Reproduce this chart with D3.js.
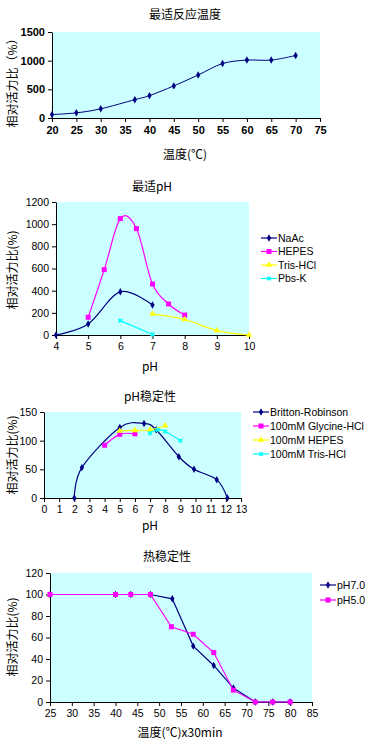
<!DOCTYPE html>
<html>
<head>
<meta charset="utf-8">
<script src="https://cdn.jsdelivr.net/npm/d3@7"></script>
<style>
  body { margin: 0; background: #fff; }
  svg { display: block; }
  text { fill: #000; }
</style>
</head>
<body>
<div id="chart"></div>
<script>
// chart 1 - optimum temperature
const tempX = [20, 25, 30, 37, 40, 45, 50, 55, 60, 65, 70];
const tempY = [60, 90, 160, 320, 390, 560, 750, 950, 1010, 1010, 1090];
const tempXTicks = [20, 25, 30, 35, 40, 45, 50, 55, 60, 65, 70, 75];
const tempYTicks = [0, 500, 1000, 1500];

// chart 2 - optimum pH
const naacX = [4, 5, 6, 7];
const naacY = [0, 100, 390, 270];
const hepesX = [5, 5.5, 6, 6.5, 7, 7.5, 8];
const hepesY = [160, 590, 1050, 960, 460, 280, 180];
const trisX = [7, 8, 9, 10];
const trisY = [190, 140, 40, 0];
const pbsX = [6, 7];
const pbsY = [130, 5];
const phXTicks = [4, 5, 6, 7, 8, 9, 10];
const phYTicks = [0, 200, 400, 600, 800, 1000, 1200];

// chart 3 - pH stability
const brX = [2, 2.5, 5, 6.6, 7.4, 8.9, 9.9, 11.4, 12.1];
const brY = [0, 53, 123, 130, 119, 72, 50, 32, 0];
const glyX = [4, 5, 6];
const glyY = [92, 111, 112];
const hepes3X = [5, 6, 7, 8];
const hepes3Y = [117, 118, 119, 126];
const tris3X = [7, 7.5, 8, 9];
const tris3Y = [113, 119, 116, 100];
const stabXTicks = [0, 1, 2, 3, 4, 5, 6, 7, 8, 9, 10, 11, 12, 13];
const stabYTicks = [0, 50, 100, 150];

// chart 4 - thermostability
const ph7X = [25, 40, 43.5, 48, 53, 57.8, 62.5, 67, 72, 76, 80];
const ph7Y = [100, 100, 100, 100, 96, 52, 34, 13, 0, 0, 0];
const ph5X = [25, 40, 43.5, 48, 52.8, 57.8, 62.5, 67, 72, 76, 80];
const ph5Y = [100, 100, 100, 100, 70, 63, 46, 11, 0, 0, 0];
const thermXTicks = [25, 30, 35, 40, 45, 50, 55, 60, 65, 70, 75, 80, 85];
const thermYTicks = [0, 20, 40, 60, 80, 100, 120];

const NAVY = '#000080', MAGENTA = '#ff00ff', YELLOW = '#ffff00', CYAN = '#00ffff';
const cjk = '"Noto Sans CJK SC", sans-serif';
const latin = '"Liberation Sans", Arial, sans-serif';

let svg = d3.select('#chart').append('svg')
  .attr('width', 375)
  .attr('height', 750);

// markers
const markers = {
  diamond: g => g.append('path').attr('d', d3.symbol(d3.symbolDiamond, 16)()).attr('fill', NAVY),
  square: g => g.append('rect').attr('x', -2.5).attr('y', -2.5).attr('width', 5).attr('height', 5).attr('fill', MAGENTA),
  triangle: g => g.append('path').attr('d', d3.symbol(d3.symbolTriangle, 18)()).attr('fill', YELLOW),
  cross: g => g.append('path').attr('d', d3.symbol(d3.symbolCross, 14)()).attr('fill', CYAN).attr('transform', 'rotate(45)')
};

function drawChart(cfg) {
  let xScale = d3.scaleLinear().domain(cfg.xDomain).range([cfg.left, cfg.right]);
  let yScale = d3.scaleLinear().domain(cfg.yDomain).range([cfg.bottom, cfg.top]);

  let g = svg.append('g');

  // plot background
  g.append('rect')
    .attr('x', cfg.left)
    .attr('y', cfg.top)
    .attr('width', cfg.right - cfg.left)
    .attr('height', cfg.bottom - cfg.top)
    .attr('fill', '#ccffff');

  let xAxis = g.append('g')
    .attr('transform', `translate(0,${cfg.bottom})`)
    .call(d3.axisBottom(xScale).tickValues(cfg.xTicks).tickFormat(d3.format('d'))
      .tickSize(4).tickSizeOuter(0).tickPadding(4));
  let yAxis = g.append('g')
    .attr('transform', `translate(${cfg.left},0)`)
    .call(d3.axisLeft(yScale).tickValues(cfg.yTicks).tickFormat(d3.format('d'))
      .tickSize(4).tickSizeOuter(0).tickPadding(3));

  [xAxis, yAxis].forEach(a => {
    a.selectAll('text')
      .style('font-family', latin)
      .style('font-size', cfg.tickFont + 'px')
      .style('font-weight', cfg.tickBold ? 'bold' : 'normal')
      .attr('fill', '#000');
    a.selectAll('line, path').attr('stroke', '#000');
  });

  // series
  let line = d3.line()
    .x(d => xScale(d[0]))
    .y(d => yScale(d[1]))
    .curve(cfg.straight ? d3.curveLinear : d3.curveCatmullRom.alpha(0));

  cfg.series.forEach(s => {
    let pts = s.x.map((v, i) => [v, s.y[i]]);
    g.append('path')
      .datum(pts)
      .attr('d', line)
      .attr('fill', 'none')
      .attr('stroke', s.color)
      .attr('stroke-width', s.width || 1.2);
    g.selectAll(null)
      .data(pts)
      .enter()
      .append('g')
      .attr('transform', d => `translate(${xScale(d[0])},${yScale(d[1])})`)
      .each(function () { markers[s.marker](d3.select(this)); });
  });

  // title
  g.append('text')
    .attr('x', cfg.titleX)
    .attr('y', cfg.titleY)
    .attr('text-anchor', 'middle')
    .style('font-family', cjk)
    .style('font-size', '12px')
    .text(cfg.title);

  // x label
  g.append('text')
    .attr('x', cfg.xLabelX)
    .attr('y', cfg.xLabelY)
    .attr('text-anchor', 'middle')
    .style('font-family', cjk)
    .style('font-size', '12px')
    .text(cfg.xLabel);

  // y label
  g.append('text')
    .attr('transform', `translate(${cfg.yLabelX},${cfg.yLabelY}) rotate(-90)`)
    .attr('text-anchor', 'middle')
    .style('font-family', cjk)
    .style('font-size', '12px')
    .text(cfg.yLabel);

  // legend
  if (cfg.legendX) {
    let legend = g.selectAll('.legend')
      .data(cfg.series)
      .enter()
      .append('g')
      .attr('transform', (d, i) => `translate(${cfg.legendX},${cfg.legendY + i * cfg.legendStep})`);
    legend.append('line')
      .attr('x1', 0).attr('x2', 16)
      .attr('stroke', d => d.color)
      .attr('stroke-width', 1.2);
    legend.append('g')
      .attr('transform', 'translate(8,0)')
      .each(function (d) { markers[d.marker](d3.select(this)); });
    legend.append('text')
      .attr('x', 17)
      .attr('dy', '0.35em')
      .style('font-family', latin)
      .style('font-size', '10.5px')
      .text(d => d.name);
  }
}

drawChart({
  left: 52, right: 320, top: 32, bottom: 118,
  xDomain: [20, 75], yDomain: [0, 1500],
  xTicks: tempXTicks, yTicks: tempYTicks,
  tickFont: 11, tickBold: true,
  title: '最适反应温度', titleX: 185, titleY: 19,
  xLabel: '温度(℃)', xLabelX: 185, xLabelY: 159,
  yLabel: '相对活力比（%）', yLabelX: 17, yLabelY: 80,
  series: [{ name: '', x: tempX, y: tempY, color: NAVY, marker: 'diamond', width: 1 }]
});

drawChart({
  left: 56, right: 249, top: 202, bottom: 335,
  xDomain: [4, 10], yDomain: [0, 1200],
  xTicks: phXTicks, yTicks: phYTicks,
  tickFont: 10.5,
  title: '最适pH', titleX: 152, titleY: 191,
  xLabel: 'pH', xLabelX: 150, xLabelY: 371,
  yLabel: '相对活力比(%)', yLabelX: 17, yLabelY: 270,
  legendX: 261, legendY: 238, legendStep: 13.5,
  series: [
    { name: 'NaAc', x: naacX, y: naacY, color: NAVY, marker: 'diamond' },
    { name: 'HEPES', x: hepesX, y: hepesY, color: MAGENTA, marker: 'square' },
    { name: 'Tris-HCl', x: trisX, y: trisY, color: YELLOW, marker: 'triangle' },
    { name: 'Pbs-K', x: pbsX, y: pbsY, color: CYAN, marker: 'cross' }
  ]
});

drawChart({
  left: 44, right: 241, top: 412, bottom: 498,
  xDomain: [0, 13], yDomain: [0, 150],
  xTicks: stabXTicks, yTicks: stabYTicks,
  tickFont: 10.5,
  title: 'pH稳定性', titleX: 150, titleY: 401,
  xLabel: 'pH', xLabelX: 150, xLabelY: 530,
  yLabel: '相对活力比(%)', yLabelX: 17, yLabelY: 455,
  legendX: 253, legendY: 412, legendStep: 14,
  series: [
    { name: 'Britton-Robinson', x: brX, y: brY, color: NAVY, marker: 'diamond' },
    { name: '100mM Glycine-HCl', x: glyX, y: glyY, color: MAGENTA, marker: 'square' },
    { name: '100mM HEPES', x: hepes3X, y: hepes3Y, color: YELLOW, marker: 'triangle' },
    { name: '100mM Tris-HCl', x: tris3X, y: tris3Y, color: CYAN, marker: 'cross' }
  ]
});

drawChart({
  left: 50, right: 312, top: 573, bottom: 702,
  xDomain: [25, 85], yDomain: [0, 120],
  xTicks: thermXTicks, yTicks: thermYTicks,
  tickFont: 10.5, straight: true,
  title: '热稳定性', titleX: 167, titleY: 561,
  xLabel: '温度(℃)x30min', xLabelX: 180, xLabelY: 737,
  yLabel: '相对活力比(%)', yLabelX: 17, yLabelY: 637,
  legendX: 320, legendY: 585, legendStep: 15,
  series: [
    { name: 'pH7.0', x: ph7X, y: ph7Y, color: NAVY, marker: 'diamond' },
    { name: 'pH5.0', x: ph5X, y: ph5Y, color: MAGENTA, marker: 'square' }
  ]
});
</script>
</body>
</html>
